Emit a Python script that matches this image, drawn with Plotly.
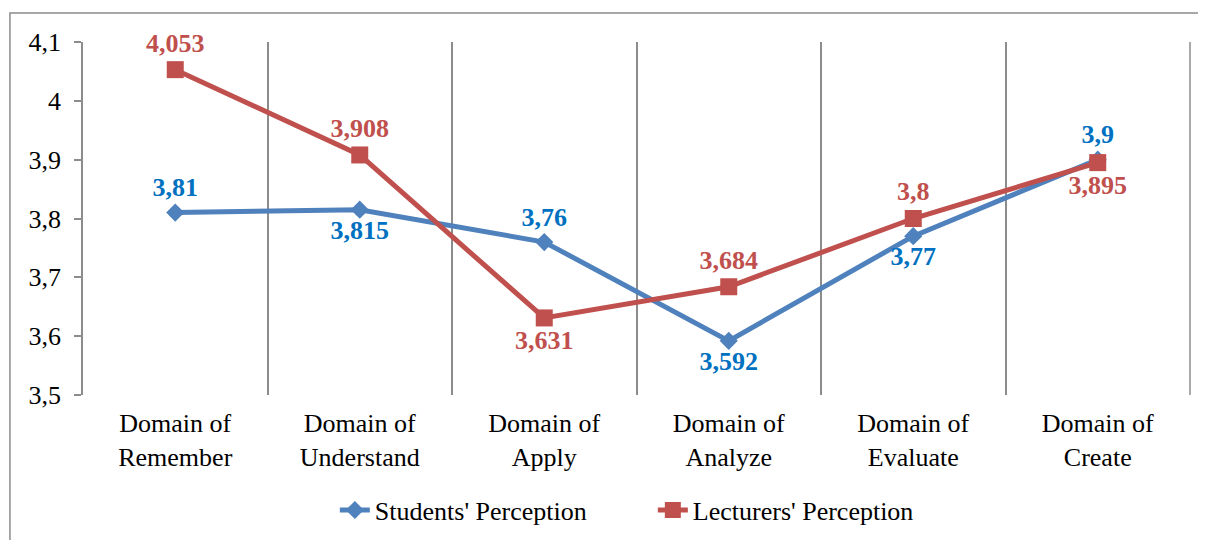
import plotly.graph_objects as go

categories = ["Domain of<br>Remember", "Domain of<br>Understand", "Domain of<br>Apply",
              "Domain of<br>Analyze", "Domain of<br>Evaluate", "Domain of<br>Create"]
students = [3.81, 3.815, 3.76, 3.592, 3.77, 3.9]
lecturers = [4.053, 3.908, 3.631, 3.684, 3.8, 3.895]
students_labels = ["3,81", "3,815", "3,76", "3,592", "3,77", "3,9"]
lecturers_labels = ["4,053", "3,908", "3,631", "3,684", "3,8", "3,895"]
students_pos = ["top center", "bottom center", "top center", "bottom center", "bottom center", "top center"]
lecturers_pos = ["top center", "top center", "bottom center", "top center", "top center", "bottom center"]
y_ticks = [3.5, 3.6, 3.7, 3.8, 3.9, 4.0, 4.1]

FONT = "Liberation Serif"

fig = go.Figure()
fig.add_trace(go.Scatter(
    x=categories, y=students, name="Students' Perception",
    mode="lines+markers+text", text=students_labels, textposition=students_pos,
    line=dict(color="#4F81BD", width=5),
    marker=dict(symbol="diamond", size=14, color="#4F81BD"),
    textfont=dict(family=FONT, size=26, color="#0070C0", weight="bold"),
    cliponaxis=False,
))
fig.add_trace(go.Scatter(
    x=categories, y=lecturers, name="Lecturers' Perception",
    mode="lines+markers+text", text=lecturers_labels, textposition=lecturers_pos,
    line=dict(color="#C0504D", width=5),
    marker=dict(symbol="square", size=17, color="#C0504D"),
    textfont=dict(family=FONT, size=26, color="#C0504D", weight="bold"),
    cliponaxis=False,
))

# outer chart border
fig.add_shape(type="rect", xref="paper", yref="paper",
              x0=-0.066, x1=1.3, y0=-1.0, y1=1.082,
              line=dict(color="#8C8C8C", width=1.5), fillcolor="rgba(0,0,0,0)", layer="below")
# right boundary gridline
fig.add_shape(type="line", xref="paper", yref="paper", x0=1, x1=1, y0=0, y1=1,
              line=dict(color="#8C8C8C", width=1.5), layer="below")

fig.update_layout(
    width=1206, height=540,
    margin=dict(l=75, r=24, t=34, b=153),
    paper_bgcolor="white", plot_bgcolor="white",
    separators=",.",
    font=dict(family=FONT, size=26, color="black"),
    showlegend=True,
    legend=dict(orientation="h", x=0.2275, xanchor="left", y=-0.326, yanchor="middle",
                font=dict(family=FONT, size=26, color="black"),
                entrywidth=273, entrywidthmode="pixels",
                traceorder="normal"),
    xaxis=dict(type="category", tickson="boundaries", showgrid=True, gridcolor="#8C8C8C",
               gridwidth=1.5, ticks="", showline=False, zeroline=False,
               tickfont=dict(family=FONT, size=26), range=[-0.5, 5.5],
               ticklabelstandoff=10),
    yaxis=dict(range=[3.5, 4.1], tickvals=y_ticks, showgrid=False, zeroline=False,
               showline=True, linecolor="#8C8C8C", linewidth=1.5,
               ticks="outside", ticklen=7, tickcolor="#8C8C8C", tickwidth=1.5,
               tickfont=dict(family=FONT, size=26), ticklabelstandoff=8),
)

fig.write_html("out.html")
